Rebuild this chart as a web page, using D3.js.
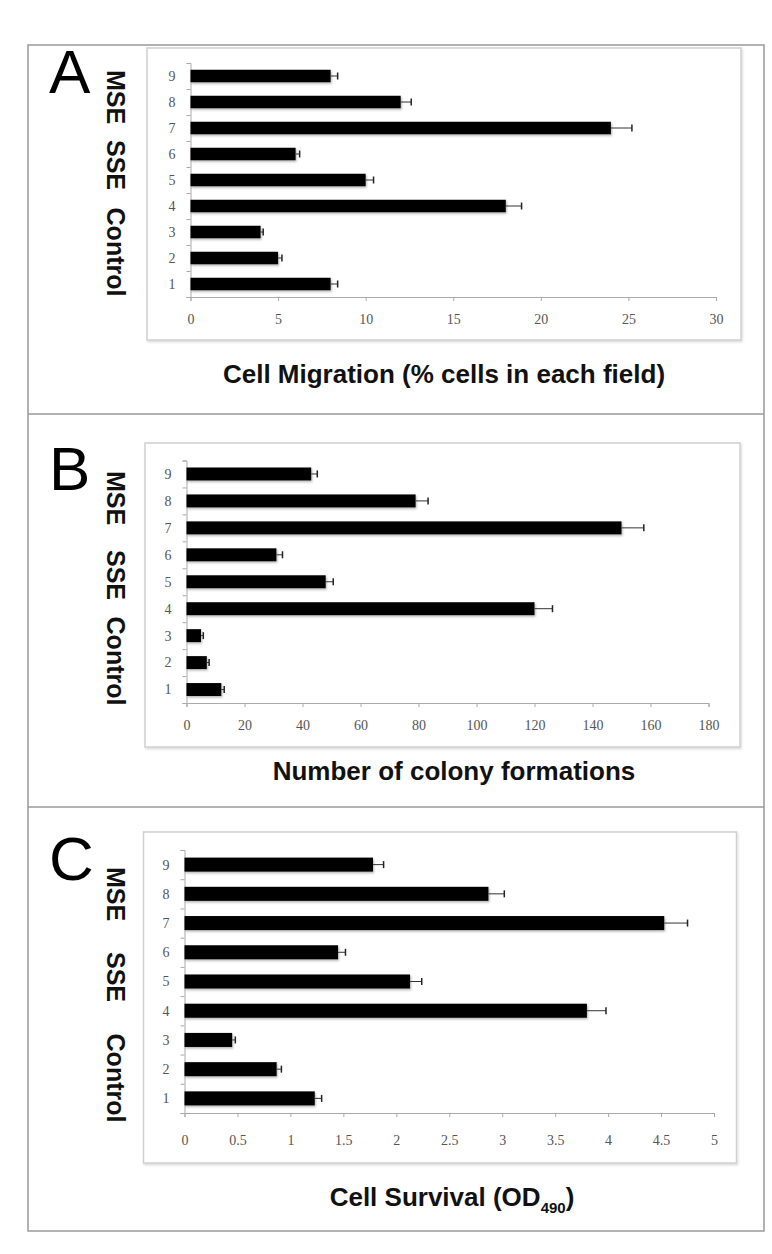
<!DOCTYPE html>
<html>
<head>
<meta charset="utf-8">
<script src="https://cdn.jsdelivr.net/npm/d3@7"></script>
<style>
	body { margin: 0; background: #fff; }
	svg { display: block; }
</style>
</head>
<body>
<div id="chart"></div>
<script>
// values (bars 1..9, bottom to top)
var categories = ['1', '2', '3', '4', '5', '6', '7', '8', '9'];
var groups = ['MSE', 'SSE', 'Control'];

var migration = [8, 5, 4, 18, 10, 6, 24, 12, 8];
var migrationErr = [0.4, 0.22, 0.15, 0.9, 0.45, 0.23, 1.2, 0.6, 0.4];
var migrationTicks = [0, 5, 10, 15, 20, 25, 30];

var colonies = [12, 7, 5, 120, 48, 31, 150, 79, 43];
var coloniesErr = [1, 0.8, 0.8, 6.2, 2.6, 2.1, 7.7, 4.3, 2.1];
var coloniesTicks = [0, 20, 40, 60, 80, 100, 120, 140, 160, 180];

var survival = [1.23, 0.87, 0.45, 3.8, 2.13, 1.45, 4.53, 2.87, 1.78];
var survivalErr = [0.065, 0.045, 0.03, 0.18, 0.11, 0.07, 0.22, 0.15, 0.1];
var survivalTicks = [0, 0.5, 1, 1.5, 2, 2.5, 3, 3.5, 4, 4.5, 5];

var width = 772, height = 1254;

// layout of the three panels
var panels = [
	{letter: 'A', values: migration, errors: migrationErr, ticks: migrationTicks, max: 30,
		box: [147, 48, 594, 292], x0: 190.5, x1: 716, top: 63, bottom: 297, letterY: 93,
		groupY: [97, 165, 252], tickPad: 13, titleY: 383, titleX: 444,
		title: 'Cell Migration (% cells in each field)'},
	{letter: 'B', values: colonies, errors: coloniesErr, ticks: coloniesTicks, max: 180,
		box: [145, 443, 595, 304], x0: 186.5, x1: 708.5, top: 460.5, bottom: 703, letterY: 490,
		groupY: [498, 575, 661], tickPad: 13, titleY: 780, titleX: 454,
		title: 'Number of colony formations'},
	{letter: 'C', values: survival, errors: survivalErr, ticks: survivalTicks, max: 5,
		box: [143.5, 832, 593, 331], x0: 184.5, x1: 714, top: 850, bottom: 1113, letterY: 880,
		groupY: [894, 977, 1078], tickPad: 18, titleY: 1206, titleX: 452,
		title: 'Cell Survival (OD'}
];

var svg = d3.select('#chart').append('svg')
	.attr('width', width)
	.attr('height', height);

var defs = svg.append('defs');
defs.append('filter').attr('id', 'barShadow')
	.attr('x', '-5%').attr('y', '-40%').attr('width', '115%').attr('height', '200%')
	.append('feDropShadow')
	.attr('dx', 1).attr('dy', 1.5).attr('stdDeviation', 1)
	.attr('flood-color', '#000').attr('flood-opacity', 0.3);
defs.append('filter').attr('id', 'boxShadow')
	.attr('x', '-2%').attr('y', '-2%').attr('width', '105%').attr('height', '105%')
	.append('feDropShadow')
	.attr('dx', 1).attr('dy', 1.5).attr('stdDeviation', 1.2)
	.attr('flood-color', '#000').attr('flood-opacity', 0.15);

// outer frame and dividers
svg.append('rect')
	.attr('x', 28).attr('y', 45)
	.attr('width', 736).attr('height', 1186)
	.attr('fill', 'none')
	.attr('stroke', '#999')
	.attr('stroke-width', 1.5);

[414, 807].forEach(function(y) {
	svg.append('line')
		.attr('x1', 28).attr('x2', 764)
		.attr('y1', y).attr('y2', y)
		.attr('stroke', '#999')
		.attr('stroke-width', 1.5);
});

panels.forEach(function(p) {

	var g = svg.append('g');

	g.append('rect')
		.attr('x', p.box[0]).attr('y', p.box[1])
		.attr('width', p.box[2]).attr('height', p.box[3])
		.attr('fill', 'white')
		.attr('stroke', '#cfcfcf')
		.attr('stroke-width', 1.5)
		.attr('filter', 'url(#boxShadow)');

	var x = d3.scaleLinear().domain([0, p.max]).range([p.x0, p.x1]);

	// category 1 at the bottom
	var y = d3.scaleBand()
		.domain(categories.slice().reverse())
		.range([p.top, p.bottom])
		.paddingInner(0.52)
		.paddingOuter(0.26);

	var edges = d3.scaleLinear().domain([0, categories.length]).range([p.bottom, p.top]);

	// y axis, ticks between the categories
	var yAxis = g.append('g')
		.attr('transform', 'translate(' + p.x0 + ',0)')
		.call(d3.axisLeft(edges).tickValues(d3.range(0, categories.length + 1)).tickSize(4).tickFormat(''));
	yAxis.select('.domain').attr('stroke', '#aaa');
	yAxis.selectAll('.tick line').attr('stroke', '#aaa');

	g.selectAll('.ylabel').data(categories).enter().append('text')
		.attr('class', 'ylabel')
		.attr('x', p.x0 - 15)
		.attr('y', function(d) {return y(d) + y.bandwidth() / 2;})
		.attr('dy', '0.35em')
		.attr('text-anchor', 'end')
		.attr('font-family', 'Liberation Serif')
		.attr('font-size', 14)
		.attr('fill', '#555')
		.text(function(d) {return d;});

	// x axis
	var xAxis = g.append('g')
		.attr('transform', 'translate(0,' + p.bottom + ')')
		.call(d3.axisBottom(x).tickValues(p.ticks).tickSize(4).tickPadding(p.tickPad).tickFormat(d3.format('')));
	xAxis.select('.domain').attr('stroke', '#aaa');
	xAxis.selectAll('.tick line').attr('stroke', '#aaa');
	xAxis.selectAll('.tick text')
		.attr('font-family', 'Liberation Serif')
		.attr('font-size', 14)
		.attr('fill', '#555');

	// bars
	g.selectAll('.bar').data(p.values).enter().append('rect')
		.attr('class', 'bar')
		.attr('x', x(0))
		.attr('y', function(d, i) {return y(categories[i]);})
		.attr('width', function(d) {return x(d) - x(0);})
		.attr('height', y.bandwidth())
		.attr('fill', '#000')
		.attr('filter', 'url(#barShadow)');

	// error bars
	var errs = g.selectAll('.err').data(p.values).enter().append('g').attr('class', 'err');
	errs.append('line')
		.attr('x1', function(d) {return x(d);})
		.attr('x2', function(d, i) {return x(d + p.errors[i]);})
		.attr('y1', function(d, i) {return y(categories[i]) + y.bandwidth() / 2;})
		.attr('y2', function(d, i) {return y(categories[i]) + y.bandwidth() / 2;})
		.attr('stroke', '#333')
		.attr('stroke-width', 1);
	errs.append('line')
		.attr('x1', function(d, i) {return x(d + p.errors[i]);})
		.attr('x2', function(d, i) {return x(d + p.errors[i]);})
		.attr('y1', function(d, i) {return y(categories[i]) + y.bandwidth() / 2 - 3.5;})
		.attr('y2', function(d, i) {return y(categories[i]) + y.bandwidth() / 2 + 3.5;})
		.attr('stroke', '#222')
		.attr('stroke-width', 1.5);

	// panel letter
	g.append('text')
		.attr('x', 49)
		.attr('y', p.letterY)
		.attr('font-family', 'Liberation Sans')
		.attr('font-size', 62)
		.attr('fill', '#000')
		.text(p.letter);

	// group labels, rotated
	g.selectAll('.group').data(groups).enter().append('text')
		.attr('class', 'group')
		.attr('transform', function(d, i) {return 'translate(106.5,' + p.groupY[i] + ') rotate(90)';})
		.attr('text-anchor', 'middle')
		.attr('font-family', 'Liberation Sans')
		.attr('font-weight', 'bold')
		.attr('font-size', 25)
		.attr('fill', '#111')
		.text(function(d) {return d;});

	// axis title
	var t = g.append('text')
		.attr('x', p.titleX)
		.attr('y', p.titleY)
		.attr('text-anchor', 'middle')
		.attr('font-family', 'Liberation Sans')
		.attr('font-weight', 'bold')
		.attr('font-size', 26)
		.attr('fill', '#111')
		.text(p.title);
	if (p.letter == 'C') {
		t.append('tspan').attr('font-size', 15).attr('dy', 7).text('490');
		t.append('tspan').attr('dy', -7).text(')');
	}
});
</script>
</body>
</html>
